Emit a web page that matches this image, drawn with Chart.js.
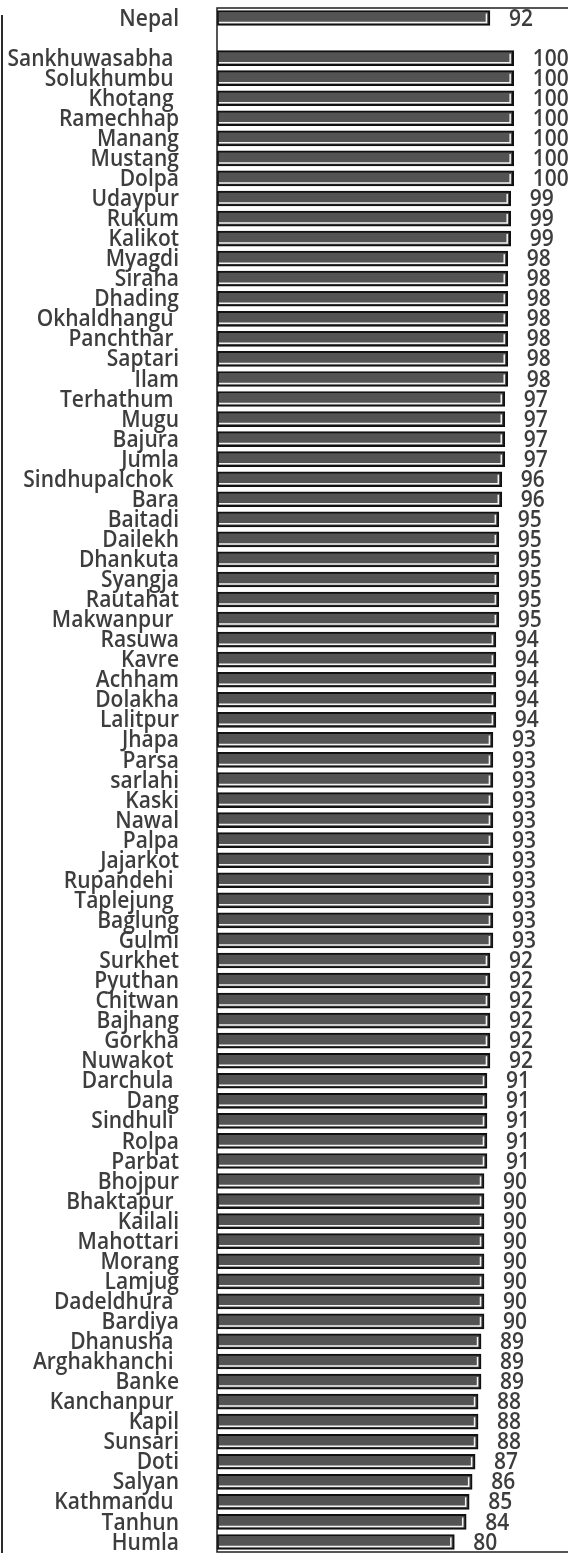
<!DOCTYPE html>
<html>
<head>
<meta charset="utf-8">
<title>Cobertura por distrito</title>
<script src="https://cdn.jsdelivr.net/npm/chart.js@4.4.0/dist/chart.umd.min.js"></script>
<style>
  html, body { margin: 0; padding: 0; background: #fff; overflow: hidden; }
  #wrap { position: relative; width: 568px; height: 1553px; overflow: hidden; }
  #frame { position: absolute; left: 1px; top: 15px; bottom: 0; width: 0; border-left: 2px solid #2a2a2a; }
  canvas { position: absolute; left: 0; top: 0; }
</style>
</head>
<body>
<div id="wrap">
  <div id="frame"></div>
  <canvas id="grafico" width="580" height="1560"></canvas>
</div>
<script>
// Nombres tal como salen en el eje (algunos llevan un espacio al final)
const districts = [
  'Nepal', '',
  'Sankhuwasabha ', 'Solukhumbu ', 'Khotang ', 'Ramechhap', 'Manang', 'Mustang', 'Dolpa',
  'Udaypur', 'Rukum', 'Kalikot', 'Myagdi', 'Siraha', 'Dhading', 'Okhaldhangu ',
  'Panchthar ', 'Saptari', 'Ilam', 'Terhathum ', 'Mugu', 'Bajura', 'Jumla',
  'Sindhupalchok ', 'Bara', 'Baitadi', 'Dailekh', 'Dhankuta', 'Syangja', 'Rautahat',
  'Makwanpur ', 'Rasuwa', 'Kavre', 'Achham', 'Dolakha', 'Lalitpur', 'Jhapa', 'Parsa',
  'sarlahi', 'Kaski', 'Nawal', 'Palpa', 'Jajarkot', 'Rupandehi ', 'Taplejung ',
  'Baglung', 'Gulmi', 'Surkhet', 'Pyuthan', 'Chitwan', 'Bajhang', 'Gorkha',
  'Nuwakot ', 'Darchula ', 'Dang', 'Sindhuli ', 'Rolpa', 'Parbat', 'Bhojpur',
  'Bhaktapur ', 'Kailali', 'Mahottari', 'Morang', 'Lamjug', 'Dadeldhura ', 'Bardiya',
  'Dhanusha ', 'Arghakhanchi ', 'Banke', 'Kanchanpur ', 'Kapil', 'Sunsari', 'Doti',
  'Salyan', 'Kathmandu ', 'Tanhun', 'Humla'
];

// Porcentaje de cada distrito (la fila vacia separa Nepal del resto)
const coverage = [
  92, null,
  100, 100, 100, 100, 100, 100, 100,
  99, 99, 99, 98, 98, 98, 98,
  98, 98, 98, 97, 97, 97, 97,
  96, 96, 95, 95, 95, 95, 95,
  95, 94, 94, 94, 94, 94, 93, 93,
  93, 93, 93, 93, 93, 93, 93,
  93, 93, 92, 92, 92, 92, 92,
  92, 91, 91, 91, 91, 91, 90,
  90, 90, 90, 90, 90, 90, 90,
  89, 89, 89, 88, 88, 88, 87,
  86, 85, 84, 80
];

const xMin = 0;
const xMax = 120;

const textColor = '#3d3d3d';
const fontText = '600 21px "Open Sans", "Noto Sans", sans-serif';
const stretchY = 1.1; // letra un poco mas alta que ancha

// Recuadro del area de trazado
const marcoPlot = {
  id: 'marcoPlot',
  afterDatasetsDraw(chart) {
    const { ctx, chartArea: a } = chart;
    ctx.save();
    ctx.strokeStyle = '#1e1e1e';
    ctx.lineWidth = 1.5;
    ctx.strokeRect(a.left, a.top, a.right - a.left, a.bottom - a.top);
    ctx.restore();
  }
};

function textoAlto(ctx, txt, x, y, align) {
  ctx.save();
  ctx.translate(x, y);
  ctx.scale(1, stretchY);
  ctx.textAlign = align;
  ctx.fillText(txt, 0, 0);
  ctx.restore();
}

// Brillo blanco dentro de cada barra, valor a la derecha y nombres del eje
const detalleBarras = {
  id: 'detalleBarras',
  afterDatasetsDraw(chart) {
    const ctx = chart.ctx;
    const meta = chart.getDatasetMeta(0);
    const values = chart.data.datasets[0].data;
    const yScale = chart.scales.y;
    ctx.save();
    ctx.fillStyle = textColor;
    ctx.font = fontText;
    ctx.textBaseline = 'middle';

    yScale.ticks.forEach((t, i) => {
      const py = yScale.getPixelForTick(i);
      textoAlto(ctx, chart.data.labels[i], yScale.right - 38, py + 1, 'right');
    });

    meta.data.forEach((bar, i) => {
      const v = values[i];
      if (v == null) return;
      const { x, y, base, height } = bar.getProps(['x', 'y', 'base', 'height'], true);
      const bottom = y + height / 2 - 3;
      const top = y - height / 2 + 3;
      const right = x - 3.5;
      ctx.strokeStyle = '#f4f4f4';
      ctx.lineWidth = 1.5;
      ctx.beginPath();
      ctx.moveTo(base + 2, bottom);
      ctx.lineTo(right, bottom);
      ctx.lineTo(right, top);
      ctx.stroke();

      textoAlto(ctx, String(v), x + 19, y + 1, 'left');
    });
    ctx.restore();
  }
};

const ctx = document.getElementById('grafico').getContext('2d');
new Chart(ctx, {
  type: 'bar',
  data: {
    labels: districts,
    datasets: [{
      data: coverage,
      backgroundColor: '#535353',
      borderColor: '#111111',
      borderWidth: 2,
      borderSkipped: false,
      barThickness: 15
    }]
  },
  options: {
    indexAxis: 'y',
    responsive: false,
    animation: false,
    layout: { padding: { top: 8, bottom: 8, right: 7, left: 0 } },
    plugins: {
      legend: { display: false },
      tooltip: { enabled: false }
    },
    scales: {
      x: {
        display: false,
        min: xMin,
        max: xMax
      },
      y: {
        grid: { display: false, drawTicks: false },
        border: { display: false },
        // ancho fijo del eje y, los nombres se pintan en el plugin
        afterFit: (scale) => {
          scale.width = 217;
          scale.paddingTop = 0;
          scale.paddingBottom = 0;
        },
        ticks: {
          display: false,
          autoSkip: false
        }
      }
    }
  },
  plugins: [marcoPlot, detalleBarras]
});
</script>
</body>
</html>
